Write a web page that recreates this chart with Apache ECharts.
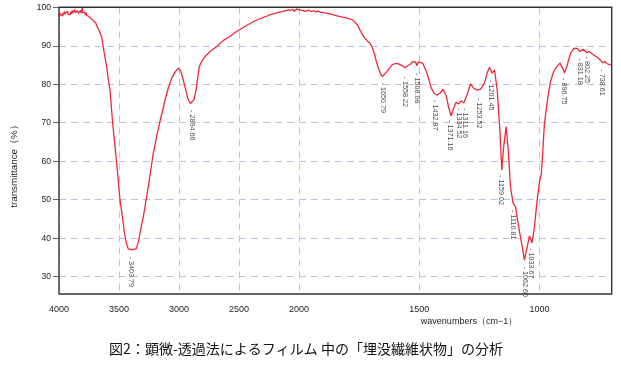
<!DOCTYPE html>
<html><head><meta charset="utf-8">
<script src="https://cdn.jsdelivr.net/npm/echarts@6/dist/echarts.min.js"></script>
<style>html,body{margin:0;padding:0;background:#fff}#c{width:621px;height:366px}</style>
</head><body><div id="c"></div>
<script>
// Tick labels
const xTicksHigh = [4000, 3500, 3000, 2500, 2000];
const xTicksLow = [1500, 1000];
const yTicks = [30, 40, 50, 60, 70, 80, 90, 100];

// Spectrum 4000-2000 cm-1 : [wavenumber, transmittance %]
const spectrumHigh = [
  [4000,98.2],[3995,97.6],[3990,98.4],[3985,97.9],[3980,98.8],[3975,98.1],[3970,97.7],[3965,98.6],
  [3960,98.0],[3955,98.9],[3950,98.3],[3945,97.8],[3940,98.5],[3935,98.1],[3930,99.0],[3925,98.2],
  [3920,97.9],[3915,98.7],[3910,98.4],[3905,98.0],[3900,98.9],[3895,98.3],[3890,99.2],[3885,98.5],
  [3880,98.0],[3875,98.8],[3870,99.4],[3865,98.6],[3860,98.2],[3855,98.9],[3850,98.3],[3845,99.1],
  [3840,98.4],[3835,98.9],[3830,98.1],[3825,98.7],[3820,99.2],[3815,98.5],[3810,98.9],[3806,100.0],
  [3802,98.6],[3798,98.2],[3794,98.9],[3790,98.3],[3785,98.7],[3780,98.0],[3775,98.6],[3770,97.9],
  [3765,98.4],[3760,97.7],[3755,98.3],[3750,97.6],[3745,98.1],[3740,97.3],[3735,97.8],[3730,97.0],
  [3725,97.4],[3720,96.6],[3715,97.1],[3710,96.4],[3705,96.7],[3700,96.0],[3693,95.9],[3686,95.2],
  [3675,94.8],[3665,93.9],[3655,93.4],[3644,92.2],[3625,88.5],[3603,84.6],[3590,81.5],[3575,78.5],
  [3553,70.0],[3533,63.8],[3514,57.7],[3492,50.0],[3472,45.6],[3455,41.5],[3444,39.5],[3430,37.8],
  [3422,37.2],[3410,37.6],[3400,37.0],[3390,37.5],[3381,37.1],[3370,37.6],[3355,37.3],[3347,37.8],
  [3335,39.5],[3325,41.3],[3292,46.5],[3256,53.4],[3214,62.1],[3186,66.5],[3150,71.5],[3117,75.9],
  [3090,78.9],[3061,81.6],[3030,83.3],[3006,84.2],[2985,83.4],[2964,81.1],[2940,78.0],[2922,75.9],
  [2905,75.0],[2894,74.9],[2875,76.0],[2858,78.5],[2845,81.5],[2831,84.6],[2810,86.0],[2783,87.2],
  [2740,88.5],[2686,89.8],[2630,91.4],[2575,92.4],[2530,93.5],[2478,94.5],[2420,95.6],[2353,96.7],
  [2300,97.3],[2260,97.8],[2240,98.1],[2225,97.9],[2214,98.3],[2200,98.1],[2190,98.5],[2180,98.3],
  [2170,98.7],[2160,98.4],[2150,98.8],[2140,98.6],[2130,99.0],[2120,98.6],[2110,99.1],[2100,98.8],
  [2090,99.3],[2080,98.9],[2070,99.2],[2060,99.0],[2050,99.5],[2040,98.9],[2030,99.3],[2020,99.6],
  [2010,99.1],[2000,99.4]
];

// Spectrum 2000-700 cm-1
const spectrumLow = [
  [2000,99.4],[1995,99.8],[1990,99.2],[1985,99.6],[1980,99.1],[1975,99.5],[1970,99.0],[1960,99.3],
  [1950,98.9],[1940,99.1],[1930,98.8],[1920,99.0],[1910,98.7],[1899,98.6],[1870,98.3],
  [1850,97.9],[1829,97.6],[1800,97.2],[1785,96.9],[1775,96.6],[1765,96.0],[1755,95.2],[1746,94.0],
  [1735,92.8],[1725,91.9],[1715,91.2],[1704,90.6],[1695,89.5],[1687,88.0],[1678,85.8],[1670,84.2],
  [1660,82.6],[1653,82.0],[1645,82.4],[1635,83.3],[1614,85.0],[1600,85.4],[1586,85.3],[1570,84.8],
  [1558,84.3],[1548,84.8],[1537,85.2],[1528,85.9],[1521,86.3],[1515,85.8],[1510,84.8],[1504,85.8],
  [1499,86.0],[1485,85.4],[1468,82.9],[1450,79.0],[1438,77.6],[1426,77.2],[1412,77.8],[1401,78.7],
  [1394,78.2],[1387,76.8],[1378,74.0],[1368,71.8],[1357,73.8],[1347,75.3],[1336,74.9],[1326,75.7],
  [1315,75.1],[1304,76.8],[1295,78.5],[1287,80.1],[1274,79.0],[1260,78.5],[1246,78.7],[1229,80.3],
  [1218,82.9],[1208,84.4],[1197,82.9],[1187,83.7],[1176,78.5],[1165,68.1],[1157,57.7],[1149,63.8],
  [1139,69.0],[1130,62.9],[1121,53.4],[1110,49.1],[1100,48.2],[1087,43.0],[1072,37.8],[1063,34.3],
  [1051,37.8],[1042,40.6],[1031,38.8],[1021,43.0],[1010,49.9],[1000,54.7],[993,56.5],[987,62.0],
  [980,69.5],[972,73.5],[965,76.8],[954,80.8],[943,83.0],[933,84.2],[915,85.5],[904,84.2],
  [896,82.9],[885,85.0],[871,88.0],[857,89.3],[843,89.3],[832,88.5],[818,89.1],[804,88.2],
  [795,88.5],[774,87.6],[753,86.7],[739,85.6],[728,85.9],[718,85.3],[700,85.0]
];

// Peak annotations: wavenumber and the transmittance where the label starts
const peakHighWn = [3403.79, 2894.66];
const peakHighT = [35.2, 73.3];
const peakLowWn = [1650.79, 1558.22, 1508.08, 1432.87, 1371.16, 1334.52, 1311.16, 1253.52, 1201.45,
                   1159.02, 1110.81, 1062.60, 1033.67, 896.75, 831.18, 802.25, 738.61];
const peakLowT = [80.4, 82.0, 82.9, 75.9, 70.7, 73.8, 73.8, 76.4, 81.1,
                  56.4, 47.3, 32.6, 37.4, 81.6, 86.7, 87.2, 83.9];

const captionText = '図2：顕微-透過法によるフィルム 中の「埋没繊維状物」の分析';
const xTitle = 'wavenumbers（cm−1）';
const yTitle = 'transmittance（%）';

const FONT = 'Liberation Sans, Arial, sans-serif';
const gridColor = '#b9c6e2';
const lineColor = '#f0283a';

const chart = echarts.init(document.getElementById('c'), null, {renderer: 'canvas'});

const splitLine = {show: true, lineStyle: {color: gridColor, type: [7, 5], width: 1}};
const peakLabel = {
  show: true, position: [0, 0], rotate: -90, align: 'left', verticalAlign: 'middle',
  fontSize: 7.2, color: '#1a1a1a', fontFamily: FONT,
  formatter: p => '- ' + p.value[0].toFixed(2)
};
const zipPairs = (a, b) => a.map((v, i) => [v, b[i]]);
const plain = v => String(v);

const yCommon = {
  type: 'value', min: 25.5, max: 100,
  axisLine: {show: false},
  splitLine: splitLine
};

chart.setOption({
  animation: false,
  backgroundColor: '#fff',
  grid: [
    {left: 59, right: 322, top: 7.3, bottom: 72, containLabel: false},
    {left: 299, right: 9.3, top: 7.3, bottom: 72, containLabel: false},
    {left: 59, right: 9.3, top: 7.3, bottom: 72, show: true, borderColor: '#333', borderWidth: 1.4, backgroundColor: 'transparent', z: 10}
  ],
  xAxis: [
    {type: 'value', gridIndex: 0, inverse: true, min: 2000, max: 4000, interval: 500,
     axisLine: {show: false}, axisTick: {show: false},
     axisLabel: {fontSize: 9, color: '#222', fontFamily: FONT, margin: 11, customValues: xTicksHigh, formatter: plain},
     splitLine: splitLine},
    {type: 'value', gridIndex: 1, inverse: true, min: 700, max: 2000,
     axisLine: {show: false}, axisTick: {show: false, customValues: xTicksLow},
     axisLabel: {fontSize: 9, color: '#222', fontFamily: FONT, margin: 11, customValues: xTicksLow, formatter: plain},
     splitLine: splitLine}
  ],
  yAxis: [
    Object.assign({}, yCommon, {gridIndex: 0,
      axisTick: {show: true, length: 6, lineStyle: {color: '#666'}, customValues: yTicks},
      axisLabel: {fontSize: 8.5, color: '#222', fontFamily: FONT, margin: 8, customValues: yTicks, formatter: plain}}),
    Object.assign({}, yCommon, {gridIndex: 1,
      axisTick: {show: false, customValues: yTicks},
      axisLabel: {show: false, customValues: yTicks}})
  ],
  series: [
    {type: 'line', xAxisIndex: 0, yAxisIndex: 0, data: spectrumHigh, showSymbol: false,
     lineStyle: {color: lineColor, width: 1.3}, z: 5},
    {type: 'line', xAxisIndex: 1, yAxisIndex: 1, data: spectrumLow, showSymbol: false,
     lineStyle: {color: lineColor, width: 1.3}, z: 5},
    {type: 'scatter', xAxisIndex: 0, yAxisIndex: 0, symbolSize: 0,
     data: zipPairs(peakHighWn, peakHighT), label: peakLabel, z: 6},
    {type: 'scatter', xAxisIndex: 1, yAxisIndex: 1, symbolSize: 0,
     data: zipPairs(peakLowWn, peakLowT), label: peakLabel, z: 6}
  ],
  graphic: [
    {type: 'text', x: 14, y: 164, rotation: Math.PI / 2,
     style: {text: yTitle, fontSize: 9.8, fill: '#222', fontFamily: FONT, align: 'center', verticalAlign: 'middle'}},
    {type: 'text', x: 469, y: 322,
     style: {text: xTitle, fontSize: 9, fill: '#222', fontFamily: FONT, align: 'center', verticalAlign: 'middle'}},
    {type: 'text', x: 306, y: 349,
     style: {text: captionText, fontSize: 14, fill: '#111', fontFamily: 'Noto Sans CJK JP, sans-serif', align: 'center', verticalAlign: 'middle'}}
  ]
});
</script></body></html>
